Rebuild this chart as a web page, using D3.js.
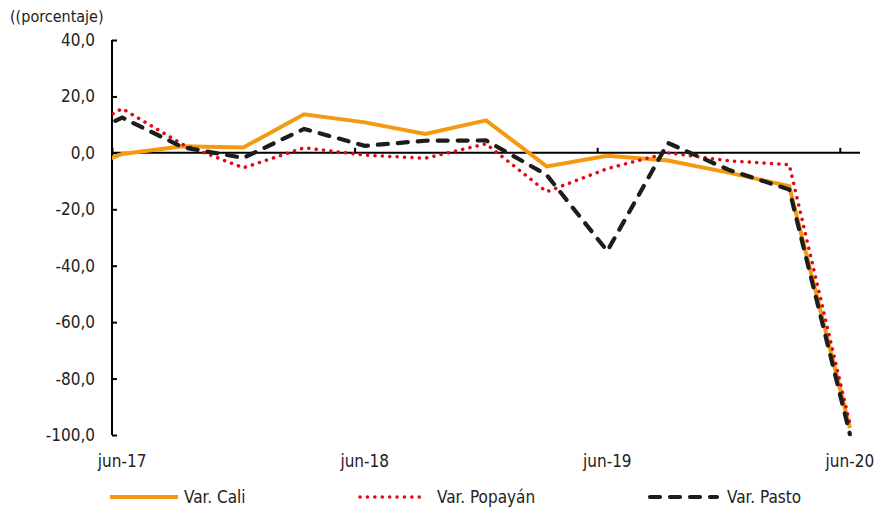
<!DOCTYPE html>
<html lang="es">
<head>
<meta charset="UTF-8">
<title>Variación Cali, Popayán, Pasto</title>
<style>
  body { margin: 0; background: #fff; }
  svg text { font-family: 'Liberation Sans Narrow', 'DejaVu Sans Condensed', 'Roboto', sans-serif; fill: #222; }
</style>
<script src="https://d3js.org/d3.v7.min.js"></script>
</head>
<body>
<svg width="879" height="509"></svg>
<script>
// trimestres (mar-17 queda fuera del área, solo asoma el tramo inicial)
const quarters = ["mar-17","jun-17","sep-17","dic-17","mar-18","jun-18","sep-18","dic-18",
                  "mar-19","jun-19","sep-19","dic-19","mar-20","jun-20"];
const cali    = [-8.5, -0.4, 2.3, 1.9, 13.7, 10.8, 6.7, 11.5, -4.8, -1.0, -2.7, -7.0, -11.8, -97.5];
const popayan = [ 3.5, 15.7, 3.0, -5.3, 1.8, -0.8, -1.9, 3.2, -13.8, -5.6, 0.0, -2.8, -4.2, -96.0];
const pasto   = [ 2.0, 12.5, 2.0, -1.8, 8.5, 2.5, 4.3, 4.4, -7.8, -34.8, 3.5, -6.0, -13.0, -99.7];
const tickLabels = ["jun-17","jun-18","jun-19","jun-20"];
const yTicks = [40, 20, 0, -20, -40, -60, -80, -100];

const svg = d3.select("svg");
const plotLeft = 112, plotRight = 860, plotTop = 40, plotBottom = 435;

// medio mes antes de jun-17 hasta medio mes despues de jun-20
const x = d3.scaleLinear().domain([1 - 1/6, 13 + 1/6]).range([plotLeft, plotRight]);
const y = d3.scaleLinear().domain([-100, 40]).range([plotBottom, plotTop]);

svg.append("clipPath").attr("id", "plot")
  .append("rect").attr("x", plotLeft).attr("y", 0).attr("width", plotRight - plotLeft).attr("height", 509);

// eje y
const yAxis = svg.append("g").attr("transform", `translate(${plotLeft},0)`)
  .call(d3.axisRight(y).tickValues(yTicks).tickSize(5).tickFormat(() => ""));
yAxis.select(".domain").attr("stroke", "#000").attr("stroke-width", 2).attr("d", `M0,${plotTop}V${plotBottom}`);
yAxis.selectAll(".tick line").attr("stroke", "#000").attr("stroke-width", 2);

svg.selectAll(".ylab").data(yTicks).enter().append("text")
  .attr("class", "ylab")
  .attr("x", 95).attr("y", d => y(d) + 6)
  .attr("text-anchor", "end")
  .style("font-size", "17px")
  .text(d => d.toFixed(1).replace(".", ","));

// eje x sobre el cero
const xAxis = svg.append("g").attr("transform", `translate(0,${y(0)})`)
  .call(d3.axisTop(x).tickValues([1, 5, 9, 13].map(q => q - 1/6)).tickSize(5).tickFormat(() => ""));
xAxis.select(".domain").attr("stroke", "#000").attr("stroke-width", 2).attr("d", `M${plotLeft},0H${plotRight}`);
xAxis.selectAll(".tick line").attr("stroke", "#000").attr("stroke-width", 2);

svg.selectAll(".xlab").data(tickLabels).enter().append("text")
  .attr("class", "xlab")
  .attr("x", d => x(quarters.indexOf(d)))
  .attr("y", 467)
  .attr("text-anchor", "middle")
  .style("font-size", "17px")
  .text(d => d);

// series
const line = d3.line().x((d, i) => x(i)).y(d => y(d));
const series = [
  { name: "Var. Cali", values: cali, color: "#f39a10", width: 4, dash: null, cap: "butt" },
  { name: "Var. Popayán", values: popayan, color: "#e30613", width: 3.5, dash: "0.1 7.3", cap: "round" },
  { name: "Var. Pasto", values: pasto, color: "#1d1d1b", width: 4.2, dash: "10 10", cap: "round" }
];

const plot = svg.append("g").attr("clip-path", "url(#plot)");
series.forEach(s => {
  plot.append("path")
    .datum(s.values)
    .attr("d", line)
    .attr("fill", "none")
    .attr("stroke", s.color)
    .attr("stroke-width", s.width)
    .attr("stroke-linecap", s.cap)
    .attr("stroke-linejoin", "miter")
    .attr("stroke-dasharray", s.dash);
});

// titulo
svg.append("text").attr("x", 10).attr("y", 22).style("font-size", "16px").text("((porcentaje)");

// leyenda
const legendX = [110, 360, 650];
const legendTextX = [184, 437, 727];
const legendW = [68, 62, 67];
series.forEach((s, i) => {
  svg.append("line")
    .attr("x1", legendX[i]).attr("x2", legendX[i] + legendW[i])
    .attr("y1", 497).attr("y2", 497)
    .attr("stroke", s.color).attr("stroke-width", s.width)
    .attr("stroke-linecap", s.cap).attr("stroke-dasharray", s.dash);
  svg.append("text").attr("x", legendTextX[i]).attr("y", 503)
    .style("font-size", "17px").text(s.name);
});
</script>
</body>
</html>
